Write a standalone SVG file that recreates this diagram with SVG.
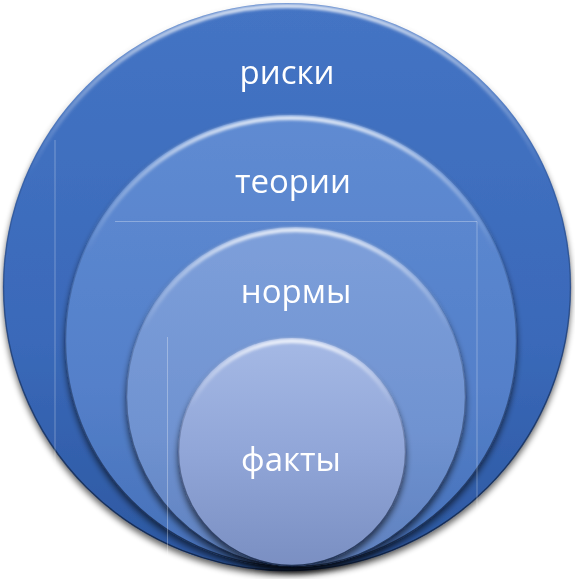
<svg xmlns="http://www.w3.org/2000/svg" width="575" height="579" viewBox="0 0 575 579">
  <defs>
    <filter id="shadow" x="-10%" y="-10%" width="120%" height="125%">
      <feGaussianBlur in="SourceAlpha" stdDeviation="3"/>
      <feOffset dx="0" dy="4" result="b"/>
      <feComponentTransfer><feFuncA type="linear" slope="0.6"/></feComponentTransfer>
      <feMerge><feMergeNode/><feMergeNode in="SourceGraphic"/></feMerge>
    </filter>
    <filter id="soft" x="-5%" y="-5%" width="110%" height="110%">
      <feGaussianBlur stdDeviation="1.6"/>
    </filter>
    <linearGradient id="g1" x1="0" y1="0" x2="0" y2="1">
      <stop offset="0" stop-color="#4474C4"/>
      <stop offset="0.6" stop-color="#3A69B9"/>
      <stop offset="1" stop-color="#2C57A0"/>
    </linearGradient>
    <linearGradient id="g2" x1="0" y1="0" x2="0" y2="1">
      <stop offset="0" stop-color="#5F8BD2"/>
      <stop offset="0.6" stop-color="#5480CA"/>
      <stop offset="1" stop-color="#4670B8"/>
    </linearGradient>
    <linearGradient id="g3" x1="0" y1="0" x2="0" y2="1">
      <stop offset="0" stop-color="#7D9FDA"/>
      <stop offset="0.6" stop-color="#7093D1"/>
      <stop offset="1" stop-color="#5E80BE"/>
    </linearGradient>
    <linearGradient id="g4" x1="0" y1="0" x2="0" y2="1">
      <stop offset="0" stop-color="#A5B9E5"/>
      <stop offset="0.5" stop-color="#91A6D8"/>
      <stop offset="1" stop-color="#7A8FC2"/>
    </linearGradient>
    <linearGradient id="hl" x1="0" y1="0" x2="0" y2="1">
      <stop offset="0" stop-color="#FFFFFF" stop-opacity="0.85"/>
      <stop offset="0.12" stop-color="#FFFFFF" stop-opacity="0.4"/>
      <stop offset="0.3" stop-color="#FFFFFF" stop-opacity="0"/>
    </linearGradient>
    <linearGradient id="dk" x1="0" y1="0" x2="0" y2="1">
      <stop offset="0.15" stop-color="#0E1E3C" stop-opacity="0"/>
      <stop offset="0.6" stop-color="#0E1E3C" stop-opacity="0.45"/>
      <stop offset="1" stop-color="#0E1E3C" stop-opacity="0.8"/>
    </linearGradient>
  </defs>
  <style>
    .lbl { font-family: "Open Sans", "Liberation Sans", sans-serif; font-size: 33px; fill: #FFFFFF; text-anchor: middle; }
    .hl { fill: none; stroke: url(#hl); stroke-width: 4; filter: url(#soft); }
    .dk { fill: none; stroke: url(#dk); stroke-width: 1.5; }
    .guide { stroke: #FFFFFF; stroke-opacity: 0.3; stroke-width: 1; fill: none; }
  </style>

  <g id="node-riski" filter="url(#shadow)">
    <circle cx="287" cy="287" r="284" fill="url(#g1)"/>
    <circle class="hl" cx="287" cy="287" r="281"/>
    <circle class="dk" cx="287" cy="287" r="283.5"/>
    <text class="lbl" x="287" y="84">риски</text>
  </g>

  <line class="guide" x1="55" y1="140" x2="55" y2="545"/>

  <g id="node-teorii" filter="url(#shadow)">
    <circle cx="291" cy="341" r="226" fill="url(#g2)"/>
    <circle class="hl" cx="291" cy="341" r="223"/>
    <circle class="dk" cx="291" cy="341" r="225.5"/>
    <text class="lbl" x="293" y="193">теории</text>
  </g>

  <polyline class="guide" points="115,221.5 477,221.5 477,550"/>

  <g id="node-normy" filter="url(#shadow)">
    <circle cx="296" cy="397" r="170" fill="url(#g3)"/>
    <circle class="hl" cx="296" cy="397" r="167"/>
    <circle class="dk" cx="296" cy="397" r="169.5"/>
    <text class="lbl" x="296" y="303">нормы</text>
  </g>

  <line class="guide" x1="167.5" y1="337" x2="167.5" y2="573"/>

  <g id="node-fakty" filter="url(#shadow)">
    <circle cx="292" cy="452" r="114" fill="url(#g4)"/>
    <circle class="hl" cx="292" cy="452" r="111"/>
    <circle class="dk" cx="292" cy="452" r="113.5"/>
    <text class="lbl" x="291" y="471">факты</text>
  </g>

  <g id="connectors"/>
</svg>
